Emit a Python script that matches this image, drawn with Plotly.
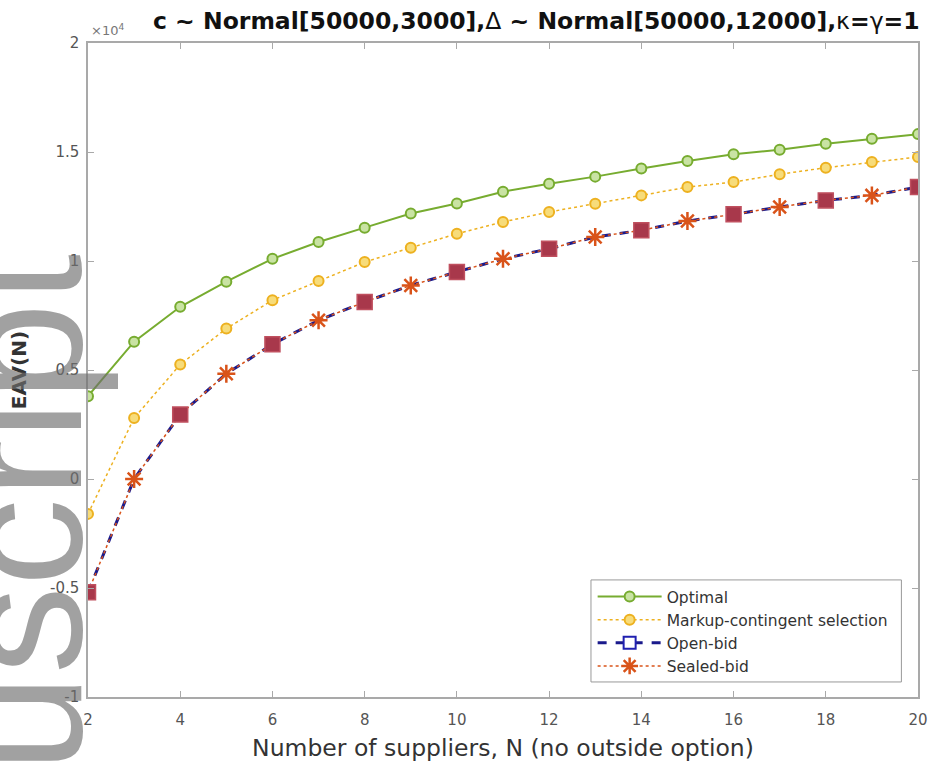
import plotly.graph_objects as go

# ---------------- data ----------------
N = list(range(2, 21))
optimal = [3800, 6300, 7900, 9050, 10100, 10870, 11530, 12180, 12640, 13180,
           13540, 13870, 14240, 14590, 14900, 15100, 15380, 15610, 15820]
markup = [-1600, 2800, 5250, 6900, 8200, 9080, 9950, 10610, 11250, 11790,
          12250, 12630, 13010, 13390, 13620, 13980, 14280, 14540, 14770]
open_bid = [-5200, 0, 2960, 4830, 6180, 7280, 8120, 8880, 9500, 10100,
            10560, 11100, 11410, 11830, 12140, 12480, 12780, 13010, 13390]
sealed_bid = list(open_bid)

y_ticks = [-10000, -5000, 0, 5000, 10000, 15000, 20000]
y_tick_labels = ["-1", "-0.5", "0", "0.5", "1", "1.5", "2"]
x_ticks = list(range(2, 21, 2))

title_text = "<b>c ~ Normal[50000,3000],</b>Δ<b> ~ Normal[50000,12000],</b>κ<b>=</b>γ<b>=1</b>"

GREEN = "#77AC30"
YELLOW = "#EDB120"
NAVY = "#1a1a8c"
ORANGE = "#D95319"
DARKRED = "#A8384B"
FONT = "DejaVu Sans, sans-serif"
WM_FONT = "Liberation Sans, Arial, sans-serif"

fig = go.Figure()

fig.add_trace(go.Scatter(
    x=N, y=optimal, mode="lines+markers", name="Optimal",
    line=dict(color=GREEN, width=2),
    marker=dict(symbol="circle", size=10, color="#c9e3a3",
                line=dict(color=GREEN, width=2)),
))
fig.add_trace(go.Scatter(
    x=N, y=markup, mode="lines+markers", name="Markup-contingent selection",
    line=dict(color=YELLOW, width=1.5, dash="dot"),
    marker=dict(symbol="circle", size=10, color="#f7dc7a",
                line=dict(color=YELLOW, width=2)),
))
# Open-bid line
fig.add_trace(go.Scatter(
    x=N, y=open_bid, mode="lines", showlegend=False,
    line=dict(color=NAVY, width=3, dash="dash"),
))
# Sealed-bid line
fig.add_trace(go.Scatter(
    x=N, y=sealed_bid, mode="lines", showlegend=False,
    line=dict(color=ORANGE, width=1.5, dash="dot"),
))
# Open-bid square markers (even N)
fig.add_trace(go.Scatter(
    x=N[::2], y=open_bid[::2], mode="markers", showlegend=False,
    marker=dict(symbol="square", size=15, color=DARKRED,
                line=dict(color="#c0505f", width=1.5)),
))
# Sealed-bid asterisk markers (odd N)
fig.add_trace(go.Scatter(
    x=N[1::2], y=sealed_bid[1::2], mode="markers", showlegend=False,
    marker=dict(symbol="asterisk-open", size=15, color=ORANGE,
                line=dict(color=ORANGE, width=2.5)),
))
# Legend entries
fig.add_trace(go.Scatter(
    x=[None], y=[None], mode="lines+markers", name="Open-bid",
    line=dict(color=NAVY, width=3, dash="dash"),
    marker=dict(symbol="square", size=12, color="white",
                line=dict(color="#2020b0", width=2)),
))
fig.add_trace(go.Scatter(
    x=[None], y=[None], mode="lines+markers", name="Sealed-bid",
    line=dict(color=ORANGE, width=1.5, dash="dot"),
    marker=dict(symbol="asterisk-open", size=14, color=ORANGE,
                line=dict(color=ORANGE, width=2.5)),
))

axis_common = dict(
    showgrid=False, zeroline=False, showline=True, linecolor="#a9a9a9",
    linewidth=1.5, mirror="ticks", ticks="inside", ticklen=6,
    tickcolor="#a9a9a9", tickwidth=1, automargin=False,
    tickfont=dict(family=FONT, size=15, color="#555555"),
)

fig.update_xaxes(range=[2, 20], tickvals=x_ticks, ticklabelstandoff=8,
                 **axis_common,
                 title=dict(text="Number of suppliers, N (no outside option)",
                            font=dict(family=FONT, size=23.5, color="#333333"),
                            standoff=12))
fig.update_yaxes(range=[-10000, 20000], tickvals=y_ticks,
                 ticktext=y_tick_labels, ticklabelstandoff=4, **axis_common,
                 title=dict(text="<b>EAV(N)</b>",
                            font=dict(family=FONT, size=20, color="#333333"),
                            standoff=18))

# legend frame (paper coordinates of the plot area)
leg_x0, leg_x1 = 0.606, 0.980
leg_y0, leg_y1 = 0.023, 0.179

fig.update_layout(
    width=935, height=772,
    margin=dict(l=88, r=17, t=43, b=75, autoexpand=False),
    paper_bgcolor="white", plot_bgcolor="white",
    font=dict(family=FONT),
    showlegend=True,
    legend=dict(x=0.608, y=0.179, xanchor="left", yanchor="top",
                bgcolor="rgba(0,0,0,0)", borderwidth=0,
                font=dict(family=FONT, size=15.5, color="#333333"),
                itemwidth=64, tracegroupgap=0),
    shapes=[
        dict(type="rect", xref="paper", yref="paper",
             x0=leg_x0, x1=leg_x1, y0=leg_y0, y1=leg_y1,
             line=dict(color="#999999", width=1), fillcolor="white",
             layer="below"),
    ],
    annotations=[
        dict(text=title_text, xref="paper", yref="paper", x=0.540, y=1.0,
             yshift=6, xanchor="center", yanchor="bottom", showarrow=False,
             font=dict(family=FONT, size=23.5, color="#111111")),
        dict(text="×10<sup>4</sup>", xref="paper", yref="paper", x=0.0,
             y=1.0, xshift=1, yshift=3, xanchor="left", yanchor="bottom",
             showarrow=False, font=dict(family=FONT, size=13, color="#777777")),
        dict(text="uscript", xref="paper", yref="paper", x=0.0385, y=0.68,
             xanchor="right", yanchor="top", textangle=-90, showarrow=False,
             font=dict(family=WM_FONT, size=176, color="rgba(110,110,110,0.65)")),
    ],
)

fig.write_html("out.html")
